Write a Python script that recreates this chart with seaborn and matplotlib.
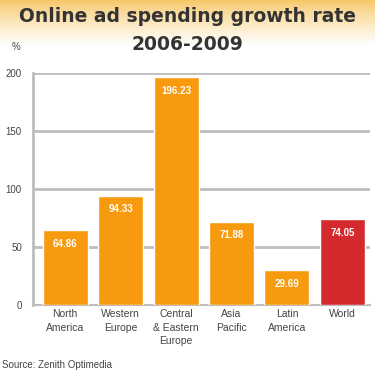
import matplotlib
matplotlib.use("Agg")
import matplotlib.pyplot as plt
import numpy as np
import pandas as pd
import seaborn as sns

categories = ["North\nAmerica", "Western\nEurope", "Central\n& Eastern\nEurope",
              "Asia\nPacific", "Latin\nAmerica", "World"]
values = [64.86, 94.33, 196.23, 71.88, 29.69, 74.05]
labels = ["64.86", "94.33", "196.23", "71.88", "29.69", "74.05"]
yticks = [0, 50, 100, 150, 200]
title_line1 = "Online ad spending growth rate"
title_line2 = "2006-2009"
source = "Source: Zenith Optimedia"

orange = "#F79A0E"
red = "#D42A2E"
colors = [orange, orange, orange, orange, orange, red]

sns.set_style("white")
plt.rcParams["font.family"] = ["Liberation Sans", "DejaVu Sans"]

fig = plt.figure(figsize=(3.75, 3.75), dpi=100)

# background gradient at top
bg = fig.add_axes([0, 0, 1, 1], zorder=-10)
grad = np.ones((375, 1, 3))
top = np.array([0.97, 0.78, 0.40])
for i in range(375):
    t = min(i / 45.0, 1.0) ** 0.8
    grad[i, 0] = top * (1 - t) + np.array([1, 1, 1]) * t
bg.imshow(grad, aspect="auto", extent=[0, 1, 0, 1], origin="upper")
bg.axis("off")

ax = fig.add_axes([0.088, 0.187, 0.899, 0.618])
df = pd.DataFrame({"cat": categories, "val": values})
sns.barplot(data=df, x="cat", y="val", hue="cat", palette=colors, legend=False,
            width=0.81, ax=ax, saturation=1, zorder=3)

ax.set_ylim(0, 200)
ax.set_xlim(-0.58, 5.5)
ax.set_yticks(yticks)
ax.set_yticklabels([str(v) for v in yticks], fontsize=7, color="#444444")
ax.yaxis.grid(True, color="#BDBDBD", linewidth=2, zorder=0)
ax.set_axisbelow(True)
ax.set_xlabel("")
ax.set_ylabel("")
ax.tick_params(axis="x", length=0, labelsize=7.5, labelcolor="#444444", pad=3)
ax.tick_params(axis="y", length=4, color="#BDBDBD", width=1.5, pad=4)
ax.set_xticks(range(len(categories)))
ax.set_xticklabels(categories, linespacing=1.45)
ax.set_xticks([i + 0.5 for i in range(len(categories))], minor=True)
ax.tick_params(axis="x", which="minor", length=4, color="#A8C0CC", width=1.5)
for s in ["top", "right"]:
    ax.spines[s].set_visible(False)
ax.spines["left"].set_color("#BDBDBD")
ax.spines["left"].set_linewidth(2)
ax.spines["bottom"].set_color("#BDBDBD")
ax.spines["bottom"].set_linewidth(1.5)

for i, (v, lab) in enumerate(zip(values, labels)):
    ax.text(i, v - 12, lab, ha="center", va="center", color="white",
            fontsize=7, fontweight="bold", zorder=5)

fig.text(0.5, 1 - 17 / 375, title_line1, ha="center", va="center", fontsize=13.5,
         fontweight="bold", color="#333333", family=["DejaVu Sans"])
fig.text(0.5, 1 - 45 / 375, title_line2, ha="center", va="center", fontsize=13.5,
         fontweight="bold", color="#333333", family=["DejaVu Sans"])
fig.text(0.03, 1 - 47 / 375, "%", ha="left", va="center", fontsize=7, color="#444444")
fig.text(0.005, 1 - 365 / 375, source, ha="left", va="center", fontsize=7,
         color="#444444")

fig.savefig("out.png", dpi=100)
